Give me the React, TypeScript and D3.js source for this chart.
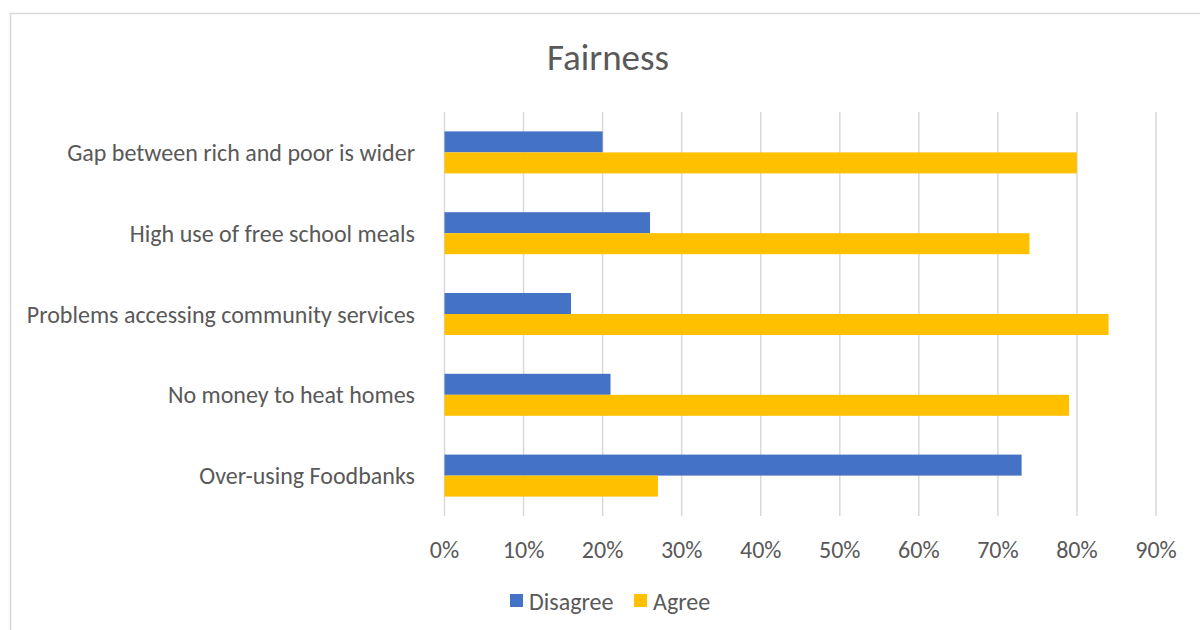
import React from "react";
import * as d3 from "d3";

const categories = [
  "Gap between rich and poor is wider",
  "High use of free school meals",
  "Problems accessing community services",
  "No money to heat homes",
  "Over-using Foodbanks",
];
const disagree = [20, 26, 16, 21, 73];
const agree = [80, 74, 84, 79, 27];
const seriesNames = ["Disagree", "Agree"];
const seriesColors = ["#4472C4", "#FFC000"];
const ticks = [0, 10, 20, 30, 40, 50, 60, 70, 80, 90];

const W = 1200;
const H = 630;
const FONT = "Carlito, Calibri, 'Open Sans', 'Liberation Sans', sans-serif";

export default function App() {
  const left = 444.5;
  const right = 1156;
  const top = 112;
  const bottom = 516;
  const x = d3.scaleLinear().domain([0, 90]).range([left, right]);
  const y = d3.scaleBand<string>().domain(categories).range([top, bottom]);
  const barH = 21;
  const series = [disagree, agree];

  return (
    <svg
      width={W}
      height={H}
      style={{ position: "absolute", left: 0, top: 0, fontFamily: FONT }}
    >
      <rect x={0} y={0} width={W} height={H} fill="#fff" />
      <path d={`M10.5,${H} V13.5 H${W}`} fill="none" stroke="#d9d9d9" strokeWidth={1.5} />
      <text x={608} y={57} textAnchor="middle" dominantBaseline="central" fontSize={37} fill="#595959">
        Fairness
      </text>
      {ticks.map((t) => (
        <g key={t}>
          <line x1={x(t)} x2={x(t)} y1={top} y2={bottom} stroke="#d9d9d9" strokeWidth={1.5} />
          <text x={x(t)} y={549} textAnchor="middle" dominantBaseline="central" fontSize={24} fill="#595959">
            {t}%
          </text>
        </g>
      ))}
      {categories.map((c, i) => {
        const cy = (y(c) as number) + y.bandwidth() / 2;
        return (
          <g key={c}>
            <text x={415} y={cy} textAnchor="end" dominantBaseline="central" fontSize={24} fill="#595959">
              {c}
            </text>
            {series.map((s, j) => (
              <rect
                key={j}
                x={x(0)}
                y={cy - barH + j * barH}
                width={x(s[i]) - x(0)}
                height={barH}
                fill={seriesColors[j]}
              />
            ))}
          </g>
        );
      })}
      {seriesNames.map((n, j) => {
        const lx = [510, 634][j];
        return (
          <g key={n}>
            <rect x={lx} y={594} width={13} height={13} fill={seriesColors[j]} />
            <text x={lx + 19} y={601} dominantBaseline="central" fontSize={24} fill="#595959">
              {n}
            </text>
          </g>
        );
      })}
    </svg>
  );
}
